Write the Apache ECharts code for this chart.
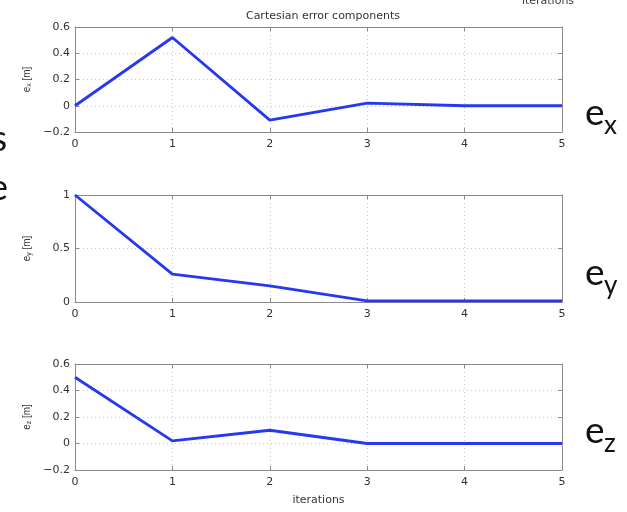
<!DOCTYPE html>
<html>
<head>
<meta charset="utf-8">
<script src="https://cdn.jsdelivr.net/npm/echarts@6/dist/echarts.min.js"></script>
<style>
  html, body { margin: 0; padding: 0; background: #fff; }
  #chart { width: 627px; height: 512px; }
</style>
</head>
<body>
<div id="chart"></div>
<script>
// Iteration index shared by all three panels
const iterations = [0, 1, 2, 3, 4, 5];
// Cartesian error components per iteration, in metres
const errX = [0, 0.52, -0.11, 0.02, 0.0, 0.0];
const errY = [1, 0.26, 0.15, 0.01, 0.01, 0.01];
const errZ = [0.5, 0.02, 0.10, 0.0, 0.0, 0.0];
// Axis names (subscript via rich text)
const yNames = ['{e|e}{s|x}{e| [m]}', '{e|e}{s|y}{e| [m]}', '{e|e}{s|z}{e| [m]}'];
const sideLabels = ['x', 'y', 'z'];

const chart = echarts.init(document.getElementById('chart'), null, { renderer: 'canvas' });

const FONT = 'DejaVu Sans';
const LABEL_COLOR = '#333333';
const LINE_BLUE = '#2638f0';
const BOX = '#8a8a8a';
const BIG = 'Lato';

const grids = [
  { left: 75, top: 27, width: 487, height: 105 },
  { left: 75, top: 195, width: 487, height: 107 },
  { left: 75, top: 364, width: 487, height: 106 }
];

const yRanges = [
  { min: -0.2, max: 0.6, interval: 0.2 },
  { min: 0, max: 1, interval: 0.5 },
  { min: -0.2, max: 0.6, interval: 0.2 }
];

function fmt(v) {
  const r = Math.round(v * 10) / 10;
  if (r === 0) return '0';
  return r < 0 ? '\u2212' + String(-r) : String(r);
}

const gridLine = { show: true, lineStyle: { color: '#c8c8c8', type: [1, 3], width: 1 } };
const tickStyle = { show: true, inside: true, length: 4, lineStyle: { color: BOX } };

// bottom / left axes carry labels; top / right mirror the inward ticks
const xAxes = [];
const yAxes = [];
grids.forEach((g, i) => {
  xAxes.push({
    type: 'value', gridIndex: i, position: 'bottom',
    min: 0, max: 5, interval: 1,
    name: i === 2 ? 'iterations' : '',
    nameLocation: 'middle', nameGap: 25,
    nameTextStyle: { fontFamily: FONT, fontSize: 11, color: LABEL_COLOR },
    axisLine: { show: true, onZero: false, lineStyle: { color: BOX, width: 1 } },
    axisTick: tickStyle,
    axisLabel: { fontFamily: FONT, fontSize: 11, color: LABEL_COLOR, margin: 7 },
    splitLine: gridLine
  });
  xAxes.push({
    type: 'value', gridIndex: i, position: 'top',
    min: 0, max: 5, interval: 1,
    axisLine: { show: true, onZero: false, lineStyle: { color: BOX, width: 1 } },
    axisTick: tickStyle, axisLabel: { show: false }, splitLine: { show: false }
  });
  yAxes.push({
    type: 'value', gridIndex: i, position: 'left',
    min: yRanges[i].min, max: yRanges[i].max, interval: yRanges[i].interval,
    name: yNames[i],
    nameLocation: 'middle', nameGap: 42, nameRotate: 90,
    nameTextStyle: {
      fontFamily: 'Liberation Sans', color: LABEL_COLOR,
      rich: {
        e: { fontFamily: 'Liberation Sans', fontSize: 10, color: LABEL_COLOR },
        s: { fontFamily: 'Liberation Sans', fontSize: 7, color: LABEL_COLOR, verticalAlign: 'bottom', padding: [4, 0, 0, 0] }
      }
    },
    axisLine: { show: true, onZero: false, lineStyle: { color: BOX, width: 1 } },
    axisTick: tickStyle,
    axisLabel: { fontFamily: FONT, fontSize: 11, color: LABEL_COLOR, margin: 5, formatter: fmt },
    splitLine: gridLine
  });
  yAxes.push({
    type: 'value', gridIndex: i, position: 'right',
    min: yRanges[i].min, max: yRanges[i].max, interval: yRanges[i].interval,
    axisLine: { show: true, onZero: false, lineStyle: { color: BOX, width: 1 } },
    axisTick: tickStyle, axisLabel: { show: false }, splitLine: { show: false }
  });
});

const allSeries = [errX, errY, errZ].map((vals, i) => ({
  type: 'line',
  xAxisIndex: i * 2,
  yAxisIndex: i * 2,
  data: iterations.map((t, k) => [t, vals[k]]),
  showSymbol: false,
  symbol: 'none',
  lineStyle: { color: LINE_BLUE, width: 2.8 },
  animation: false
}));

// alphabetic baseline of the large component labels at the right
const sideBase = [125, 285, 443];
const E_SIZE = 37;
const SUB_SIZE = 26;
// text is drawn centred on y; shift so the baseline lands where wanted
const mid = fs => -0.32 * fs;

chart.setOption({
  animation: false,
  backgroundColor: '#ffffff',
  title: {
    text: 'Cartesian error components',
    left: 318, top: 6, textAlign: 'center',
    textStyle: { fontFamily: FONT, fontSize: 11, fontWeight: 'normal', color: LABEL_COLOR }
  },
  grid: grids.map(g => Object.assign({ show: false }, g)),
  xAxis: xAxes,
  yAxis: yAxes,
  series: allSeries,
  graphic: [
    // surrounding slide text, partly outside the frame
    { type: 'text', x: 548, y: 5 + mid(11), style: { text: 'iterations', fontFamily: FONT, fontSize: 11, fill: '#3a3a3a', align: 'center', verticalAlign: 'middle' } },
    { type: 'text', x: 7, y: 151 + mid(36), style: { text: 's', fontFamily: BIG, fontSize: 36, fill: '#111', align: 'right', verticalAlign: 'middle' } },
    { type: 'text', x: 8, y: 200 + mid(36), style: { text: 'e', fontFamily: BIG, fontSize: 36, fill: '#111', align: 'right', verticalAlign: 'middle' } }
  ].concat(sideLabels.map((s, i) => ({
    type: 'group', x: 585, y: sideBase[i],
    children: [
      { type: 'text', x: 0, y: mid(E_SIZE), style: { text: 'e', fontFamily: BIG, fontSize: E_SIZE, fill: '#111', verticalAlign: 'middle' } },
      { type: 'text', x: 19, y: 9 + mid(SUB_SIZE), style: { text: s, fontFamily: BIG, fontSize: SUB_SIZE, fill: '#111', verticalAlign: 'middle' } }
    ]
  })))
});
</script>
</body>
</html>
